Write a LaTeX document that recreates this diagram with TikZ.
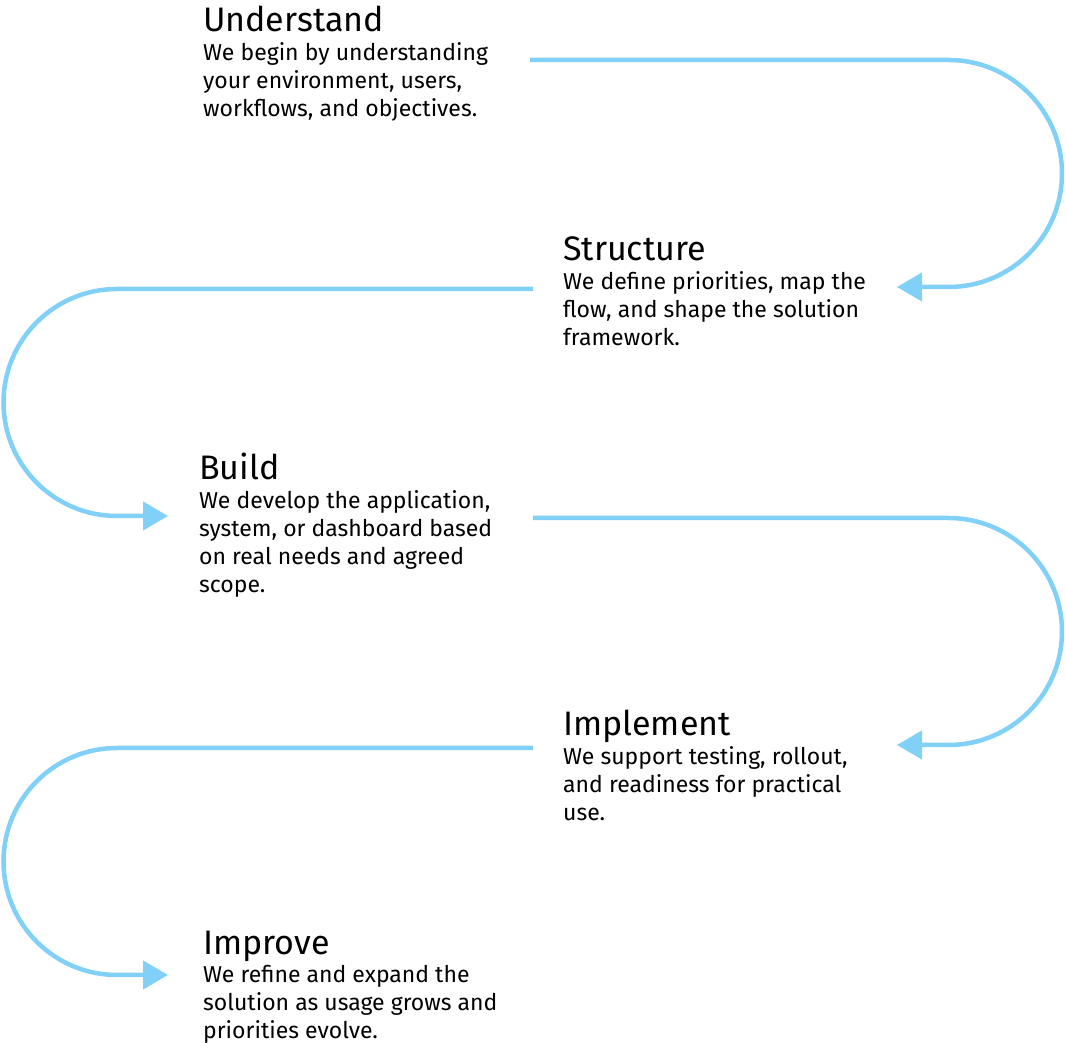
\documentclass[tikz,border=0pt]{standalone}
\usepackage{fontspec}
\setmainfont{Fira Sans}
\usetikzlibrary{arrows.meta}
\definecolor{flowblue}{RGB}{128,208,247}

\begin{document}
\begin{tikzpicture}[x=1pt,y=1pt,
    flow/.style={draw=flowblue, line width=4.5pt, -{Triangle[length=25pt,width=28pt]}},
    head/.style={anchor=base west, inner sep=0pt, font=\fontsize{34}{40}\selectfont},
    desc/.style={anchor=north west, inner sep=0pt, align=left, font=\fontsize{23}{28}\selectfont}]
    \useasboundingbox (0,0) rectangle (1066,1043);
    % the five steps
    \node[head] (understand) at (203,1011) {Understand};
    \node[desc] (understand-d) at ([yshift=-10pt]understand.base west)
      {We begin by understanding\\your environment, users,\\workflows, and objectives.};
    \node[head] (structure) at (563,782) {Structure};
    \node[desc] (structure-d) at ([yshift=-10pt]structure.base west)
      {We define priorities, map the\\flow, and shape the solution\\framework.};
    \node[head] (build) at (199,563) {Build};
    \node[desc] (build-d) at ([yshift=-10pt]build.base west)
      {We develop the application,\\system, or dashboard based\\on real needs and agreed\\scope.};
    \node[head] (implement) at (563,307) {Implement};
    \node[desc] (implement-d) at ([yshift=-10pt]implement.base west)
      {We support testing, rollout,\\and readiness for practical\\use.};
    \node[head] (improve) at (203,88) {Improve};
    \node[desc] (improve-d) at ([yshift=-10pt]improve.base west)
      {We refine and expand the\\solution as usage grows and\\priorities evolve.};
    % loose ends of the connectors
    \coordinate (u-out) at (530,983);
    \coordinate (s-in) at (897,756);
    \coordinate (s-out) at (533,754);
    \coordinate (b-in) at (168,527);
    \coordinate (b-out) at (533,525);
    \coordinate (i-in) at (897,298);
    \coordinate (i-out) at (533,295);
    \coordinate (p-in) at (168,68);
    \draw[flow] (u-out) -- (948.5,983) arc[start angle=90, end angle=-90, radius=113.5] -- (s-in);
    \draw[flow] (s-out) -- (117,754) arc[start angle=90, end angle=270, radius=113.5] -- (b-in);
    \draw[flow] (b-out) -- (948.5,525) arc[start angle=90, end angle=-90, radius=113.5] -- (i-in);
    \draw[flow] (i-out) -- (117,295) arc[start angle=90, end angle=270, radius=113.5] -- (p-in);
  \end{tikzpicture}
\end{document}
